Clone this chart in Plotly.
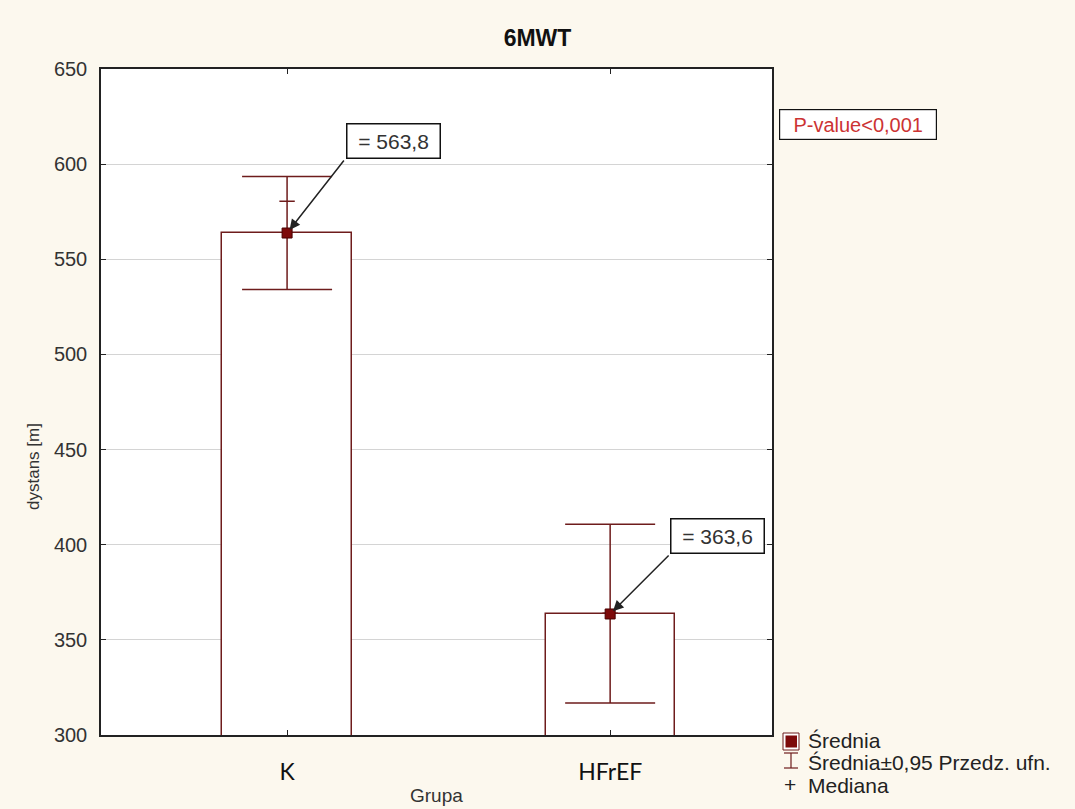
import plotly.graph_objects as go

# ---- data ----
groups = ["K", "HFrEF"]
means = [563.8, 363.6]
ci_low = [534.1, 316.8]
ci_high = [593.5, 410.8]
medians = [580.5, 364.0]
mean_labels = ["= 563,8", "= 363,6"]
y_ticks = [300, 350, 400, 450, 500, 550, 600, 650]

W, H = 1075, 809
L, R, T, B = 101, 772, 69, 735  # plot area in px

def px(x):
    return (x - L) / (R - L)

def py(y):
    return (B - y) / (B - T)

MAROON = "#6e1c1c"
DARK = "#7d0a0a"
TXT = "#333333"
FONT = "Liberation Sans, Arial, sans-serif"

fig = go.Figure()

fig.add_trace(go.Bar(
    x=groups, y=means, width=0.40,
    marker=dict(color="white", line=dict(color=MAROON, width=1.5)),
    error_y=dict(type="data", symmetric=False,
                 array=[h - m for h, m in zip(ci_high, means)],
                 arrayminus=[m - l for m, l in zip(means, ci_low)],
                 color=MAROON, thickness=1.5, width=45),
    showlegend=False, hoverinfo="skip",
))
fig.add_trace(go.Scatter(
    x=groups, y=medians, mode="markers",
    marker=dict(symbol="line-ew", size=11, line=dict(color=MAROON, width=1.5)),
    showlegend=False,
))
fig.add_trace(go.Scatter(
    x=groups, y=means, mode="markers",
    marker=dict(symbol="square", size=10, color=DARK, line=dict(color="#4a0000", width=1)),
    showlegend=False,
))

annotations = []
# arrows and value boxes
arrow_offsets = [(58, -74), (60, -60)]
box_shifts = [(106, 92), (107, 78)]
for g, m, lab, (ax, ay), (xs, ys) in zip(groups, means, mean_labels, arrow_offsets, box_shifts):
    annotations.append(dict(x=g, y=m, xref="x", yref="y", text="", showarrow=True,
                            ax=ax, ay=ay, arrowhead=2, arrowsize=1.4, arrowwidth=1.5,
                            arrowcolor="#222222", standoff=4))
    annotations.append(dict(x=g, y=m, xref="x", yref="y", text=lab, showarrow=False,
                            xanchor="center", yanchor="middle",
                            xshift=xs, yshift=ys, font=dict(family=FONT, size=21, color=TXT),
                            bgcolor="white", bordercolor="#111111", borderwidth=1.5,
                            width=88, height=29, borderpad=2, align="center"))

# P-value box
annotations.append(dict(x=px(857.5), y=py(124.5), xref="paper", yref="paper",
                        xanchor="center", yanchor="middle",
                        text="P-value&lt;0,001", showarrow=False,
                        font=dict(family=FONT, size=20, color="#cc3333"),
                        bgcolor="white", bordercolor="#111111", borderwidth=1.2,
                        width=152, height=25, borderpad=2))

# axis titles
annotations.append(dict(x=px(33), y=py(467), xref="paper", yref="paper", text="dystans [m]",
                        xanchor="center", yanchor="middle",
                        textangle=-90, showarrow=False,
                        font=dict(family=FONT, size=17, color=TXT)))
annotations.append(dict(x=px(436), y=py(795), xref="paper", yref="paper", text="Grupa",
                        xanchor="center", yanchor="middle",
                        showarrow=False, font=dict(family=FONT, size=19, color=TXT)))

# legend texts
legend_font = dict(family=FONT, size=21, color="#222222")
for text, yy in [("Średnia", 741), ("Średnia±0,95 Przedz. ufn.", 762), ("Mediana", 785)]:
    annotations.append(dict(x=px(806), y=py(yy), xref="paper", yref="paper", text=text,
                            xanchor="left", yanchor="middle", showarrow=False, font=legend_font))
annotations.append(dict(x=px(790), y=py(784), xref="paper", yref="paper", text="+",
                        xanchor="center", yanchor="middle", showarrow=False, font=legend_font))

shapes = [
    # legend mean symbol
    dict(type="rect", xref="paper", yref="paper", x0=px(783), x1=px(799), y0=py(733), y1=py(750),
         line=dict(color=MAROON, width=1), fillcolor="white"),
    dict(type="rect", xref="paper", yref="paper", x0=px(785.5), x1=px(797), y0=py(735.5), y1=py(747.5),
         line=dict(width=0), fillcolor=DARK),
    # legend CI symbol
    dict(type="line", xref="paper", yref="paper", x0=px(791), x1=px(791), y0=py(753), y1=py(768),
         line=dict(color=MAROON, width=1.2)),
    dict(type="line", xref="paper", yref="paper", x0=px(784), x1=px(798), y0=py(753), y1=py(753),
         line=dict(color=MAROON, width=1.2)),
    dict(type="line", xref="paper", yref="paper", x0=px(784), x1=px(798), y0=py(768), y1=py(768),
         line=dict(color=MAROON, width=1.2)),
]

fig.update_layout(
    width=W, height=H,
    margin=dict(l=L, r=W - R, t=T, b=H - B, pad=0),
    paper_bgcolor="#fcf8ee", plot_bgcolor="white",
    title=dict(text="<b>6MWT</b>", x=0.5, xref="container", y=1 - 38 / H, yanchor="middle",
               xanchor="center", font=dict(family=FONT, size=23, color="#111111")),
    annotations=annotations, shapes=shapes,
    bargap=0,
)
fig.update_xaxes(
    type="category", categoryorder="array", categoryarray=groups,
    range=[-0.576, 1.501], showgrid=False,
    showline=True, linecolor="#222222", linewidth=1.5, mirror="ticks",
    ticks="inside", ticklen=5, tickcolor="#222222",
    tickfont=dict(family="Lato, Open Sans, sans-serif", size=23, color="#111111"),
    ticklabelstandoff=16,
)
fig.update_yaxes(
    range=[300, 650], tickvals=y_ticks,
    showgrid=True, gridcolor="#d4d4d4", gridwidth=1, zeroline=False,
    showline=True, linecolor="#222222", linewidth=1.5, mirror="ticks",
    ticks="inside", ticklen=5, tickcolor="#222222",
    tickfont=dict(family=FONT, size=20, color=TXT),
    ticklabelstandoff=8,
)

fig.write_html("out.html")
